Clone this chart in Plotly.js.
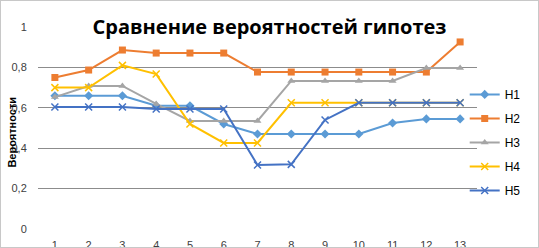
<!DOCTYPE html>
<html>
<head>
<meta charset="utf-8">
<script src="https://cdn.plot.ly/plotly-3.0.1.min.js"></script>
<style>
html,body{margin:0;padding:0;background:#fff;}
#chart{width:539px;height:248px;box-sizing:border-box;border:1px solid #c8c8c8;overflow:hidden;}
</style>
</head>
<body>
<div id="chart"></div>
<script>
const steps = [1,2,3,4,5,6,7,8,9,10,11,12,13];
const seriesNames = ["H1","H2","H3","H4","H5"];
const H1 = [0.66,0.66,0.66,0.61,0.61,0.52,0.47,0.47,0.47,0.47,0.525,0.545,0.545];
const H2 = [0.75,0.787,0.886,0.871,0.871,0.871,0.777,0.777,0.777,0.777,0.777,0.777,0.926];
const H3 = [0.653,0.708,0.708,0.619,0.535,0.535,0.535,0.733,0.733,0.733,0.733,0.797,0.797];
const H4 = [0.70,0.70,0.81,0.767,0.52,0.426,0.426,0.625,0.625,0.625,0.625,0.625,0.625];
const H5 = [0.604,0.604,0.604,0.594,0.594,0.594,0.317,0.32,0.54,0.625,0.625,0.625,0.625];
const yTicks = [0,0.2,0.4,0.6,0.8,1];

const colors = ["#5B9BD5","#ED7D31","#A5A5A5","#FFC000","#4472C4"];
const symbols = ["diamond","square","triangle-up","x-thin","x-thin"];
const values = [H1,H2,H3,H4,H5];

const traces = values.map((v,i)=>({
  x: steps, y: v, name: seriesNames[i], type:'scatter', mode:'lines+markers',
  legendgroup: 'g'+i,
  line:{color:colors[i], width:2},
  marker:{symbol:symbols[i], size:7, color:colors[i],
          line:{color:colors[i], width:(i>=3?1.5:0)}}
}));

const layout = {
  width:537, height:246,
  margin:{l:37,r:45,t:26,b:18,pad:0},
  paper_bgcolor:'#fff', plot_bgcolor:'#fff',
  separators:', ',
  font:{family:'"Liberation Sans", Arial, sans-serif', size:11, color:'#404040'},
  title:{text:'Сравнение вероятностей гипотез', x:0.5, xanchor:'center', y:0.895, yanchor:'middle',
         font:{family:'"Open Sans", sans-serif', size:20, color:'#000', weight:'bold'}},
  xaxis:{type:'linear', range:[0.5,13.5], tickvals:steps, ticktext:steps.map(String),
         showgrid:false, zeroline:false, showline:false, ticks:'',
         ticklabelstandoff:8, tickfont:{size:11,color:'#404040'}},
  yaxis:{range:[0,1], tickvals:yTicks, showgrid:true, gridcolor:'#8c8c8c', gridwidth:1,
         zeroline:false, showline:true, linecolor:'#fff', linewidth:0,
         ticks:'', ticklabelstandoff:8, tickfont:{size:11,color:'#404040'}},
  showlegend:true,
  legend:{x:0.972, xanchor:'left', y:0.738, yanchor:'top', bgcolor:'rgba(0,0,0,0)',
          font:{size:12,color:'#000'}, tracegroupgap:5, traceorder:'grouped', itemwidth:30},
  annotations:[{text:'<b>Вероятности</b>', xref:'paper', yref:'paper', x:-0.058, y:0.48,
                xanchor:'center', yanchor:'middle', textangle:-90, showarrow:false,
                font:{size:11,color:'#000'}}]
};

Plotly.newPlot('chart', traces, layout, {displayModeBar:false, staticPlot:true});
</script>
</body>
</html>
